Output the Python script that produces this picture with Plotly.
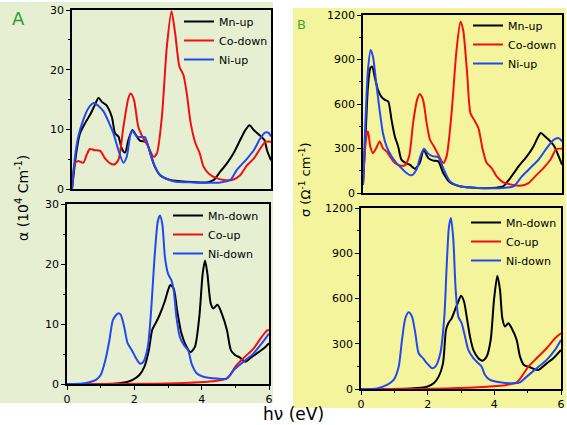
import plotly.graph_objects as go

# ---------------- Panel A top: alpha (10^4 cm^-1), spin-up/down ----------------
a_mn_up_x = [0, 0.14, 0.24, 0.39, 0.54, 0.69, 0.8, 0.9, 1.03, 1.2, 1.3, 1.4, 1.5, 1.6, 1.7, 1.82, 1.92, 2.05, 2.24, 2.36, 2.5, 2.66, 2.96, 3.46, 4.07, 4.27, 4.47, 4.67, 4.87, 5.07, 5.23, 5.35, 5.48, 5.68, 5.8, 5.88, 6.0]
a_mn_up_y = [0, 6.5, 9.3, 11.0, 12.4, 14.1, 15.3, 14.6, 14.1, 12.1, 9.3, 8.8, 6.8, 6.1, 8.2, 9.9, 9.1, 8.1, 7.9, 6.0, 3.7, 2.3, 1.5, 1.2, 1.1, 1.5, 2.9, 4.3, 6.0, 8.2, 9.9, 10.7, 9.9, 8.9, 8.2, 6.5, 4.8]

a_co_down_x = [0, 0.09, 0.19, 0.34, 0.44, 0.54, 0.69, 0.85, 1.0, 1.15, 1.27, 1.4, 1.55, 1.7, 1.77, 1.87, 2.0, 2.15, 2.3, 2.46, 2.56, 2.71, 2.86, 3.0, 3.11, 3.24, 3.36, 3.46, 3.58, 3.72, 3.85, 3.97, 4.12, 4.32, 4.57, 4.87, 5.07, 5.28, 5.48, 5.68, 5.83, 6.0]
a_co_down_y = [0, 4.3, 4.7, 4.4, 5.7, 6.7, 6.5, 6.4, 5.1, 4.3, 4.1, 4.9, 10.4, 15.2, 16.0, 14.9, 10.4, 8.5, 7.1, 5.4, 6.0, 12.1, 23.9, 29.8, 26.1, 20.5, 19.1, 16.0, 11.0, 7.7, 6.0, 3.7, 2.6, 1.9, 1.5, 1.6, 2.3, 4.0, 5.1, 6.8, 7.9, 7.9]

a_ni_up_x = [0, 0.09, 0.19, 0.34, 0.49, 0.66, 0.8, 0.95, 1.1, 1.25, 1.4, 1.55, 1.65, 1.77, 1.83, 1.95, 2.1, 2.2, 2.3, 2.46, 2.66, 3.06, 3.67, 4.47, 4.77, 4.97, 5.28, 5.48, 5.68, 5.83, 5.93, 6.0]
a_ni_up_y = [0, 5.4, 8.8, 11.6, 13.5, 14.4, 13.9, 13.0, 11.3, 9.3, 6.5, 4.4, 5.4, 9.3, 9.7, 8.8, 8.7, 8.7, 7.1, 4.3, 2.3, 1.3, 1.1, 1.1, 1.5, 3.2, 5.1, 6.5, 8.5, 9.5, 9.4, 8.8]

# ---------------- Panel A bottom ----------------
a_mn_down_x = [0, 0.96, 1.46, 1.75, 1.95, 2.15, 2.3, 2.43, 2.53, 2.63, 2.75, 2.9, 3.0, 3.07, 3.17, 3.27, 3.4, 3.55, 3.67, 3.8, 3.93, 4.03, 4.1, 4.17, 4.27, 4.35, 4.47, 4.6, 4.75, 4.87, 5.0, 5.14, 5.29, 5.44, 5.64, 5.84, 6.0]
a_mn_down_y = [0, 0, 0.1, 0.3, 0.7, 1.5, 2.9, 5.6, 9.0, 10.1, 11.5, 13.7, 15.6, 16.5, 15.9, 12.3, 8.4, 6.2, 5.3, 6.2, 11.2, 18.4, 20.6, 18.4, 13.4, 12.6, 13.2, 11.7, 9.0, 5.6, 4.8, 4.4, 3.7, 4.3, 5.1, 5.9, 6.8]

a_co_up_x = [0, 2.95, 3.95, 4.45, 4.7, 4.85, 5.0, 5.24, 5.54, 5.79, 5.94, 6.0]
a_co_up_y = [0, 0.1, 0.3, 0.55, 0.8, 1.5, 2.9, 4.3, 5.9, 7.9, 8.9, 9.0]

a_ni_down_x = [0, 0.46, 0.66, 0.86, 1.0, 1.14, 1.26, 1.36, 1.46, 1.53, 1.6, 1.7, 1.8, 1.93, 2.05, 2.17, 2.27, 2.4, 2.5, 2.6, 2.7, 2.76, 2.83, 2.91, 3.0, 3.1, 3.17, 3.25, 3.35, 3.47, 3.6, 3.7, 3.85, 4.05, 4.45, 4.75, 4.95, 5.24, 5.54, 5.79, 6.0]
a_ni_down_y = [0, 0.1, 0.3, 0.7, 1.5, 4.0, 7.3, 10.6, 11.5, 11.8, 11.5, 9.5, 6.8, 5.6, 4.3, 3.4, 3.7, 6.2, 12.3, 21.1, 27.2, 28.1, 26.7, 21.1, 18.4, 17.3, 15.6, 11.2, 7.9, 6.5, 5.6, 3.4, 1.8, 1.2, 0.9, 0.9, 2.3, 3.7, 5.1, 6.8, 8.4]

# ---------------- Panel B top: sigma (Ohm^-1 cm^-1) ----------------
b_mn_up_x = [0, 0.08, 0.15, 0.22, 0.28, 0.35, 0.45, 0.55, 0.66, 0.76, 0.86, 0.96, 1.06, 1.16, 1.29, 1.41, 1.56, 1.71, 1.83, 1.97, 2.12, 2.27, 2.42, 2.62, 2.92, 3.43, 4.03, 4.23, 4.44, 4.69, 4.94, 5.14, 5.26, 5.36, 5.49, 5.65, 5.77, 5.9, 6.0]
b_mn_up_y = [56, 404, 718, 841, 852, 785, 695, 650, 628, 617, 493, 381, 314, 224, 202, 191, 164, 202, 292, 235, 218, 213, 135, 72, 45, 34, 36, 45, 101, 179, 247, 314, 370, 404, 381, 348, 314, 247, 191]

b_co_down_x = [0, 0.1, 0.15, 0.22, 0.3, 0.4, 0.5, 0.6, 0.71, 0.81, 0.96, 1.11, 1.26, 1.39, 1.51, 1.63, 1.71, 1.81, 1.92, 2.02, 2.14, 2.27, 2.42, 2.52, 2.67, 2.82, 2.94, 3.02, 3.14, 3.24, 3.35, 3.48, 3.61, 3.73, 3.88, 4.03, 4.23, 4.49, 4.74, 4.99, 5.19, 5.44, 5.65, 5.83, 6.0]
b_co_down_y = [60, 381, 415, 314, 269, 303, 348, 303, 280, 247, 202, 186, 186, 247, 471, 628, 668, 628, 471, 359, 314, 258, 202, 247, 538, 964, 1155, 1099, 807, 538, 493, 437, 292, 202, 168, 112, 72, 56, 49, 67, 112, 168, 224, 296, 298]

b_ni_up_x = [0, 0.08, 0.15, 0.23, 0.3, 0.4, 0.5, 0.6, 0.71, 0.86, 1.01, 1.16, 1.31, 1.46, 1.61, 1.73, 1.84, 1.97, 2.12, 2.27, 2.42, 2.62, 2.92, 3.53, 4.23, 4.54, 4.79, 5.04, 5.29, 5.54, 5.75, 5.9, 6.0]
b_ni_up_y = [56, 516, 830, 964, 920, 740, 561, 404, 314, 247, 202, 168, 135, 119, 157, 247, 298, 265, 247, 242, 168, 79, 45, 34, 34, 45, 112, 168, 224, 303, 359, 370, 348]

# ---------------- Panel B bottom ----------------
b_mn_down_x = [0, 1.5, 1.98, 2.18, 2.33, 2.46, 2.55, 2.62, 2.72, 2.82, 2.92, 3.0, 3.09, 3.17, 3.27, 3.37, 3.52, 3.64, 3.77, 3.89, 3.99, 4.09, 4.17, 4.24, 4.32, 4.42, 4.52, 4.67, 4.77, 4.89, 5.07, 5.32, 5.57, 5.77, 6.0]
b_mn_down_y = [0, 3, 15, 38, 82, 170, 392, 436, 469, 525, 580, 618, 580, 480, 348, 259, 204, 188, 215, 325, 591, 751, 658, 469, 414, 436, 403, 325, 215, 159, 144, 126, 170, 204, 259]

b_co_up_x = [0, 2.57, 3.77, 4.37, 4.67, 4.82, 5.02, 5.27, 5.57, 5.82, 6.0]
b_co_up_y = [0, 4, 15, 27, 44, 82, 148, 204, 270, 337, 370]

b_ni_down_x = [0, 0.48, 0.78, 0.98, 1.13, 1.23, 1.33, 1.43, 1.53, 1.63, 1.73, 1.86, 1.98, 2.13, 2.23, 2.38, 2.5, 2.57, 2.64, 2.7, 2.77, 2.84, 2.92, 3.02, 3.12, 3.22, 3.37, 3.52, 3.62, 3.72, 3.87, 4.17, 4.57, 4.77, 4.97, 5.27, 5.57, 5.82, 6.0]
b_ni_down_y = [0, 4, 27, 60, 148, 325, 469, 509, 480, 370, 237, 204, 170, 137, 148, 237, 480, 813, 1078, 1134, 990, 658, 480, 436, 348, 259, 204, 170, 148, 93, 60, 44, 38, 44, 82, 137, 193, 259, 325]

x_ticks = [0, 2, 4, 6]
a_y_ticks = [0, 10, 20, 30]
b_y_ticks = [0, 300, 600, 900, 1200]

BLACK = "#000000"
RED = "#f01010"
BLUE = "#2248f0"
FONT = "DejaVu Sans"

W, H = 567, 425
def px_x(a, b):
    return [a / W, b / W]
def px_y(top, bottom):
    return [1 - bottom / H, 1 - top / H]

fig = go.Figure()

def add(x, y, name, color, xa, ya, legend):
    fig.add_trace(go.Scatter(x=x, y=y, name=name, mode="lines",
                             line=dict(color=color, width=2, shape="spline", smoothing=0.7),
                             xaxis=xa, yaxis=ya, legend=legend))

add(a_mn_up_x, a_mn_up_y, "Mn-up", BLACK, "x", "y", "legend")
add(a_co_down_x, a_co_down_y, "Co-down", RED, "x", "y", "legend")
add(a_ni_up_x, a_ni_up_y, "Ni-up", BLUE, "x", "y", "legend")

add(a_mn_down_x, a_mn_down_y, "Mn-down", BLACK, "x2", "y2", "legend2")
add(a_co_up_x, a_co_up_y, "Co-up", RED, "x2", "y2", "legend2")
add(a_ni_down_x, a_ni_down_y, "Ni-down", BLUE, "x2", "y2", "legend2")

add(b_mn_up_x, b_mn_up_y, "Mn-up", BLACK, "x3", "y3", "legend3")
add(b_co_down_x, b_co_down_y, "Co-down", RED, "x3", "y3", "legend3")
add(b_ni_up_x, b_ni_up_y, "Ni-up", BLUE, "x3", "y3", "legend3")

add(b_mn_down_x, b_mn_down_y, "Mn-down", BLACK, "x4", "y4", "legend4")
add(b_co_up_x, b_co_up_y, "Co-up", RED, "x4", "y4", "legend4")
add(b_ni_down_x, b_ni_down_y, "Ni-down", BLUE, "x4", "y4", "legend4")

def xaxis(domain, anchor, labels):
    d = dict(domain=domain, anchor=anchor, range=[0, 6], showline=True, linecolor="black",
             linewidth=1.5, mirror=True, showgrid=False, zeroline=False, automargin=False,
             tickvals=x_ticks, ticklabeloverflow="allow",
             tickfont=dict(family=FONT, size=11, color="black"))
    if labels:
        d.update(ticks="outside", ticklen=4, tickwidth=1, tickcolor="black",
                 minor=dict(ticks="outside", ticklen=2, dtick=1, tickcolor="black"))
    else:
        d.update(ticks="", showticklabels=False)
    return d

def yaxis(domain, anchor, rng, vals, minor):
    return dict(domain=domain, anchor=anchor, range=rng, showline=True, linecolor="black",
                linewidth=1.5, mirror=True, showgrid=False, zeroline=False, automargin=False,
                tickvals=vals, ticks="outside", ticklen=4, tickwidth=1, tickcolor="black",
                ticklabeloverflow="allow",
                minor=dict(ticks="outside", ticklen=2, dtick=minor, tickcolor="black"),
                tickfont=dict(family=FONT, size=11, color="black"))

def legend(xpx, ypx):
    return dict(x=xpx / W, y=1 - ypx / H, xanchor="left", yanchor="top",
                bgcolor="rgba(0,0,0,0)", borderwidth=0, tracegroupgap=0,
                font=dict(family=FONT, size=11, color="black"))

GREEN_BG = "#e6efd2"
YELLOW_BG = "#f4f49c"

def note(text, xpx, ypx, size, color="black", angle=0):
    return dict(text=text, x=xpx / W, y=1 - ypx / H, xref="paper", yref="paper",
                xanchor="center", yanchor="middle", showarrow=False, textangle=angle,
                font=dict(family=FONT, size=size, color=color))

fig.update_layout(
    template="none",
    width=W, height=H, autosize=False,
    margin=dict(l=0, r=0, t=0, b=0, pad=0),
    paper_bgcolor="white", plot_bgcolor="rgba(0,0,0,0)",
    font=dict(family=FONT, color="black"),
    showlegend=True,
    xaxis=xaxis(px_x(72, 271), "y", False),
    yaxis=yaxis(px_y(10, 189), "x", [0, 30], a_y_ticks, 5),
    xaxis2=xaxis(px_x(67, 269), "y2", True),
    yaxis2=yaxis(px_y(204, 384), "x2", [0, 30], a_y_ticks, 5),
    xaxis3=xaxis(px_x(363, 562), "y3", False),
    yaxis3=yaxis(px_y(15, 193), "x3", [0, 1200], b_y_ticks, 150),
    xaxis4=xaxis(px_x(361, 561), "y4", True),
    yaxis4=yaxis(px_y(208, 389), "x4", [0, 1200], b_y_ticks, 150),
    legend=legend(179, 7),
    legend2=legend(168, 201),
    legend3=legend(468, 11),
    legend4=legend(466, 208),
    shapes=[
        dict(type="rect", xref="paper", yref="paper", layer="below", line=dict(width=0),
             fillcolor=GREEN_BG, x0=0, x1=273 / W, y0=1 - 403 / H, y1=1 - 2 / H),
        dict(type="rect", xref="paper", yref="paper", layer="below", line=dict(width=0),
             fillcolor=YELLOW_BG, x0=293 / W, x1=566 / W, y0=1 - 408 / H, y1=1 - 8 / H),
    ],
    annotations=[
        note("A", 18, 19, 18, "#2aa02a"),
        note("B", 301, 24, 13, "#3aaa3a"),
        note("hν (eV)", 293, 414, 17),
        note("α (10<sup>4</sup> Cm<sup>-1</sup>)", 22, 198, 14, angle=-90),
        note("σ (Ω<sup>-1</sup> cm<sup>-1</sup>)", 305, 180, 13, angle=-90),
    ],
)

fig.write_html(
    "out.html",
    config={"displayModeBar": False},
    post_script="document.body.style.margin='0';document.body.style.padding='0';"
                "document.documentElement.style.overflow='hidden';",
)
